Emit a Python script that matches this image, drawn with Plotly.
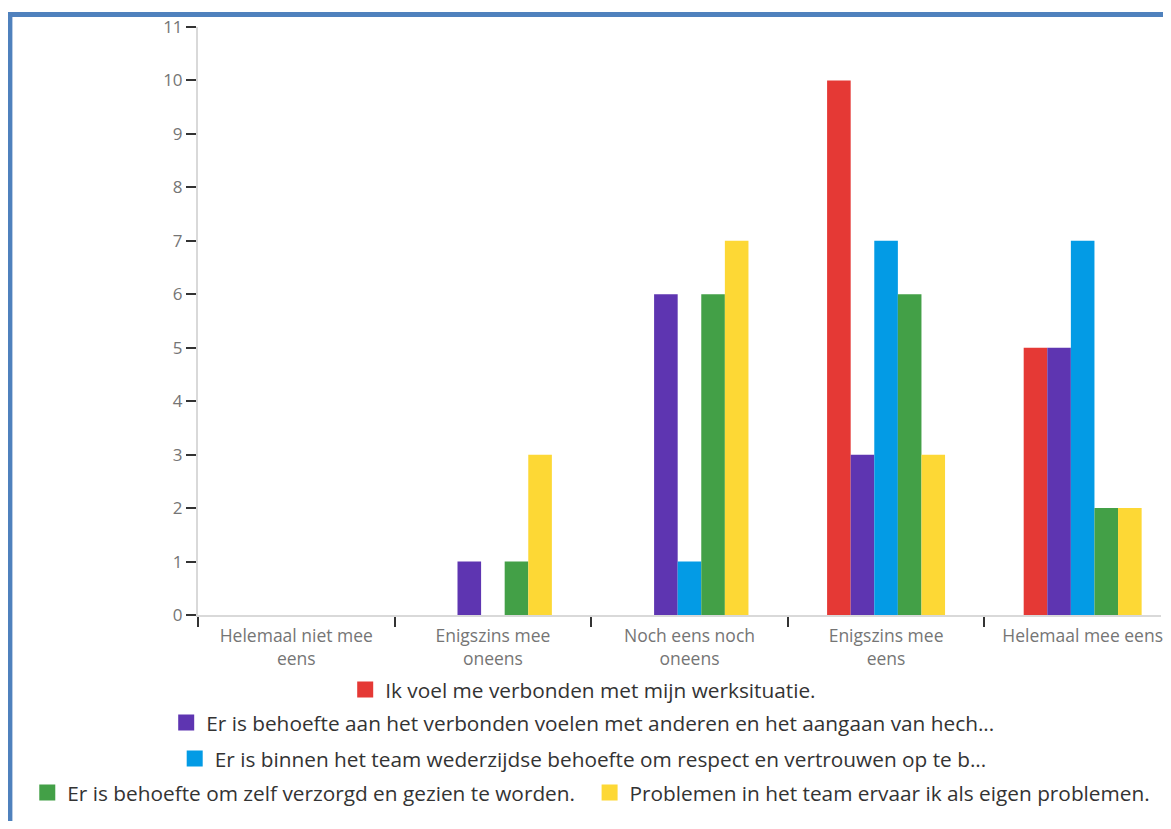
import plotly.graph_objects as go

categories = ["Helemaal niet mee<br>eens", "Enigszins mee<br>oneens", "Noch eens noch<br>oneens",
              "Enigszins mee<br>eens", "Helemaal mee eens"]
series_names = [
    "Ik voel me verbonden met mijn werksituatie.",
    "Er is behoefte aan het verbonden voelen met anderen en het aangaan van hech...",
    "Er is binnen het team wederzijdse behoefte om respect en vertrouwen op te b...",
    "Er is behoefte om zelf verzorgd en gezien te worden.",
    "Problemen in het team ervaar ik als eigen problemen.",
]
values_red = [0, 0, 0, 10, 5]
values_purple = [0, 1, 6, 3, 5]
values_blue = [0, 0, 1, 7, 7]
values_green = [0, 1, 6, 6, 2]
values_yellow = [0, 3, 7, 3, 2]
series_values = [values_red, values_purple, values_blue, values_green, values_yellow]
colors = ["#e53935", "#5e35b1", "#039be5", "#43a047", "#fdd835"]
legend_ids = ["legend", "legend2", "legend3", "legend4", "legend5"]

FONT = "Open Sans"
fig = go.Figure()
for name, vals, col in zip(series_names, series_values, colors):
    fig.add_trace(go.Bar(x=categories, y=vals, name=name, marker_color=col,
                         marker_line_width=0, showlegend=False))
for name, col, lg in zip(series_names, colors, legend_ids):
    fig.add_trace(go.Scatter(x=[None], y=[None], mode="markers", name=name, legend=lg,
                             marker=dict(symbol="square", size=19, color=col)))

OFF = 8  # page body margin
W, H = 1171 - 2 * OFF, 829 - 2 * OFF
L, T = 198 - OFF, 27 - OFF
B = H - (615 - OFF)
PW = W - L

def px(p):
    return (p - OFF - L) / PW

def py(p):
    return (H - B - (p - OFF)) / (H - B - T)

# 197 px per category
x_end = -0.5 + PW / 197

def lg(cx, cy):
    return dict(orientation="h", xanchor="center", yanchor="middle", x=px(cx), y=py(cy),
                font=dict(family=FONT, size=20.8, color="#333333"), bgcolor="rgba(0,0,0,0)",
                itemclick=False)

fig.update_layout(
    width=W, height=H,
    margin=dict(l=L, r=0, t=T, b=B),
    paper_bgcolor="white", plot_bgcolor="white",
    barmode="group", bargap=0.4, bargroupgap=0,
    font=dict(family=FONT),
    xaxis=dict(range=[-0.5, x_end], showgrid=False, showline=True, linecolor="#d9d9d9",
               linewidth=2, ticks="outside", tickson="boundaries", ticklen=10, tickcolor="#333333",
               tickwidth=2, ticklabelstandoff=4,
               tickfont=dict(family=FONT, size=17.5, color="#757575"), fixedrange=True),
    yaxis=dict(range=[0, 11], dtick=1, showgrid=False, zeroline=False, showline=True,
               linecolor="#d9d9d9", linewidth=2, ticks="outside", ticklen=10, tickcolor="#333333",
               tickwidth=2, tickfont=dict(family=FONT, size=17, color="#757575"), fixedrange=True),
    legend=lg(584, 690),
    legend2=lg(584, 723),
    legend3=lg(584, 759),
    legend4=lg(304, 793),
    legend5=lg(874, 793),
    shapes=[
        dict(type="line", xref="paper", yref="paper", x0=px(5), x1=px(1180),
             y0=py(14.5), y1=py(14.5), line=dict(color="#4f81bd", width=5)),
        dict(type="line", xref="paper", yref="paper", x0=px(9.5), x1=px(9.5),
             y0=py(12), y1=py(840), line=dict(color="#4f81bd", width=5)),
    ],
)
fig.write_html("out.html")
